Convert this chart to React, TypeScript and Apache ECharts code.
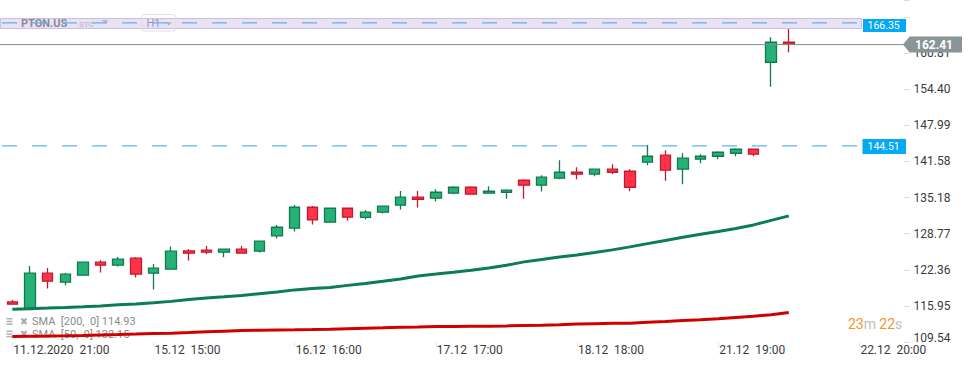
import React, { useEffect, useRef } from "react";
import * as echarts from "echarts";

// ---- categories (hourly US session bars) ----
const firstBar = "11.12.2020  21:00";
const sessionDays = ["14.12", "15.12", "16.12", "17.12", "18.12", "21.12", "22.12", "23.12"];
const sessionHours = ["15:00", "16:00", "17:00", "18:00", "19:00", "20:00", "21:00"];
const SLOT_COUNT = 51;

// ---- y axis tick labels ----
const yTickLabels = ["109.54", "115.95", "122.36", "128.77", "135.18", "141.58", "147.99", "154.40", "160.81"];
const Y_MIN = 109.54;
const Y_STEP = 6.4075;
const Y_MAX = 170.24;

// ---- OHLC ----
const opens = [116.66, 115.54, 121.75, 120.16, 121.4, 123.7, 123.17, 124.41, 121.75, 122.46, 125.71, 125.83, 125.48, 126.01, 125.66, 128.37, 129.74, 133.46, 130.8, 133.28, 131.65, 132.58, 133.82, 135.24, 135.06, 135.95, 137.01, 135.95, 136.12, 138.25, 137.37, 138.61, 139.67, 139.32, 140.21, 139.85, 141.45, 142.69, 140.21, 141.98, 142.51, 143.04, 143.75, 159.19, 162.74];
const closes = [116.25, 121.75, 120.33, 121.57, 123.7, 123.17, 124.24, 121.57, 122.64, 125.66, 125.3, 125.48, 126.01, 125.3, 127.43, 129.91, 133.46, 131.21, 133.28, 131.69, 132.58, 133.64, 135.24, 134.88, 136.12, 137.01, 135.77, 136.3, 136.48, 137.37, 138.79, 139.67, 139.32, 140.21, 139.67, 137.01, 142.51, 140.03, 142.16, 142.51, 143.22, 143.75, 142.87, 162.74, 162.41];
const lows = [116.22, 115.4, 119.02, 119.55, 121.36, 121.86, 122.92, 120.97, 118.84, 122.43, 123.99, 125.12, 124.59, 125.26, 125.41, 127.89, 129.13, 130.38, 130.77, 131.08, 131.3, 132.33, 133.04, 133.39, 134.46, 135.77, 135.73, 135.91, 134.97, 134.97, 136.23, 138.43, 138.43, 138.96, 139.32, 136.3, 140.91, 138.18, 137.54, 141.27, 141.98, 142.51, 142.51, 154.86, 160.96];
const highs = [117.01, 123.05, 122.69, 121.81, 123.76, 124.06, 124.64, 124.64, 123.4, 126.47, 126.06, 126.6, 126.06, 126.6, 127.48, 130.32, 133.87, 133.69, 133.34, 133.34, 132.95, 133.69, 136.35, 136.35, 136.66, 137.19, 137.19, 137.19, 136.66, 138.43, 139.14, 141.8, 140.56, 140.26, 141.09, 140.21, 144.51, 143.58, 143.04, 142.87, 143.4, 143.93, 143.81, 163.63, 165.1];

// ---- moving averages ----
const sma50 = [115.37, 115.45, 115.56, 115.68, 115.81, 115.95, 116.13, 116.3, 116.52, 116.75, 117.1, 117.33, 117.55, 117.78, 118.11, 118.43, 118.79, 119.05, 119.23, 119.59, 119.94, 120.33, 120.74, 121.27, 121.59, 121.93, 122.28, 122.66, 123.17, 123.76, 124.2, 124.64, 125.0, 125.44, 125.89, 126.42, 127.0, 127.57, 128.14, 128.67, 129.17, 129.7, 130.32, 131.12, 131.92];
const sma200 = [110.5, 110.56, 110.59, 110.63, 110.7, 110.8, 110.87, 110.95, 111.05, 111.11, 111.21, 111.34, 111.46, 111.57, 111.62, 111.67, 111.71, 111.76, 111.82, 111.9, 111.98, 112.05, 112.17, 112.22, 112.28, 112.31, 112.33, 112.35, 112.4, 112.47, 112.53, 112.62, 112.72, 112.79, 112.85, 112.88, 113.03, 113.18, 113.36, 113.5, 113.68, 113.89, 114.09, 114.39, 114.76];

// ---- price levels ----
const ALERT_LEVEL = 166.35;
const SUPPORT_LEVEL = 144.51;
const LAST_PRICE = 162.41;
const legendTexts = ["SMA  [200,  0] 114.93", "SMA  [50,  0] 132.15"];
const countdown = { min: "23", sec: "22" };

const categories: string[] = [firstBar];
sessionDays.forEach((d) => sessionHours.forEach((h) => categories.push(`${d}  ${h}`)));
categories.length = SLOT_COUNT;

export default function App() {
  const ref = useRef<HTMLDivElement>(null);
  useEffect(() => {
    const el = ref.current!;
    const chart = echarts.init(el, undefined, { renderer: "svg" });
    const candleData = opens.map((o, i) => [o, closes[i], lows[i], highs[i]]);
    chart.setOption({
      animation: false,
      textStyle: { fontFamily: "Roboto" },
      grid: { left: 3.5, right: 70.5, top: 0, bottom: 26 },
      xAxis: {
        type: "category",
        data: categories,
        boundaryGap: true,
        axisLine: { show: false },
        axisTick: { show: true, alignWithLabel: true, interval: 7, length: 5, lineStyle: { color: "#e2e2e2" } },
        axisLabel: { interval: 7, align: "left", color: "#3a3a3a", fontSize: 12, margin: 2, padding: [0, 0, 0, 1] },
        splitLine: { show: false },
      },
      yAxis: [
        { type: "value", min: Y_MIN, max: Y_MAX, show: false, position: "right", splitLine: { show: false } },
        {
          type: "value",
          min: 0,
          max: (Y_MAX - Y_MIN) / Y_STEP,
          interval: 1,
          position: "right",
          axisLine: { show: false },
          axisTick: { show: true, length: 6, lineStyle: { color: "#dddddd" } },
          splitLine: { show: false },
          axisLabel: {
            margin: 10,
            color: "#3a3a3a",
            fontSize: 12,
            formatter: (v: number) => {
              const i = Math.round(v);
              if (Math.abs(v - i) > 1e-6 || !yTickLabels[i]) return "";
              return i === 0 ? `{b|${yTickLabels[i]}}` : yTickLabels[i];
            },
            rich: { b: { color: "#3a3a3a", fontSize: 12, padding: [0, 0, 9, 0] } },
          },
        },
      ],
      series: [
        {
          type: "candlestick",
          data: candleData,
          yAxisIndex: 0,
          barWidth: 11,
          itemStyle: {
            color: "#26b276",
            color0: "#ff3347",
            borderColor: "#117a4f",
            borderColor0: "#c41a2f",
            borderWidth: 1.3,
          },
        },
        {
          type: "line",
          data: sma50,
          yAxisIndex: 0,
          symbol: "none",
          z: 3,
          lineStyle: { color: "#0c7c52", width: 3 },
        },
        {
          type: "line",
          data: sma200,
          yAxisIndex: 0,
          symbol: "none",
          z: 3,
          lineStyle: { color: "#d10000", width: 3 },
        },
      ],
    });

    const yp = (v: number) => chart.convertToPixel({ yAxisIndex: 0 }, v) as number;
    const xp = (i: number) => chart.convertToPixel({ xAxisIndex: 0 }, i) as number;
    const yA = yp(ALERT_LEVEL);
    const yS = yp(SUPPORT_LEVEL);
    const yL = yp(LAST_PRICE);
    const xEnd = xp(48);
    const plotRight = chart.getWidth() - 69;

    const txt = (text: string, x: number, y: number, font: string, fill: string, z = 11) => ({
      type: "text",
      x,
      y,
      z,
      style: { text, font, fill, align: "left", textAlign: "left", verticalAlign: "middle", textVerticalAlign: "middle" },
    });
    const ln = (x1: number, y1: number, x2: number, y2: number, stroke: string, lineWidth: number, z = 11) => ({
      type: "line",
      z,
      shape: { x1, y1, x2, y2 },
      style: { stroke, lineWidth },
    });

    chart.setOption({
      graphic: [
        // toolbar band
        { type: "rect", z: 10, shape: { x: 0.5, y: 18.5, width: 861, height: 10 }, style: { fill: "#e8e2f3", stroke: "#cbbde3", lineWidth: 1 } },
        txt("PTON.US", 21, 23.5, "bold 11px Roboto", "#8d899e"),
        txt("STC", 79, 24, "8px Roboto", "#b7b3c7"),
        { type: "polygon", z: 11, shape: { points: [[101.5, 20], [108.5, 20], [105, 23.5]] }, style: { fill: "#bcb8cc" } },
        { type: "rect", z: 11, shape: { x: 141.5, y: 14.5, width: 34, height: 16.5, r: 3 }, style: { fill: "rgba(0,0,0,0)", stroke: "#e0dde6", lineWidth: 1 } },
        txt("H1", 146.5, 23.5, "11px Roboto", "#9c98ab"),
        { type: "polygon", z: 11, shape: { points: [[165.5, 22.3], [171.8, 22.3], [168.6, 25.5]] }, style: { fill: "#b0acc0" } },
        // alert line
        { type: "line", z: 12, shape: { x1: 2, y1: yA + 1, x2: xEnd, y2: yA + 1 }, style: { stroke: "#5fb3ec", lineWidth: 1.3, lineDash: [15, 15] } },
        { type: "rect", z: 13, shape: { x: 863, y: yA - 3, width: 43, height: 13 }, style: { fill: "#03a9f4" } },
        txt(ALERT_LEVEL.toFixed(2), 867.5, yA + 3.5, "10.5px Roboto", "#ffffff", 14),
        // support level line
        { type: "line", z: 12, shape: { x1: 2, y1: yS + 1, x2: xEnd - 1, y2: yS + 1 }, style: { stroke: "#5ab6f0", lineWidth: 1.3, lineDash: [15, 15] } },
        { type: "rect", z: 13, shape: { x: 862.5, y: yS - 6, width: 43.5, height: 15 }, style: { fill: "#03a9f4" } },
        txt(SUPPORT_LEVEL.toFixed(2), 867.5, yS + 1.5, "10.5px Roboto", "#ffffff", 14),
        // last price
        ln(0, yL + 0.5, plotRight, yL + 0.5, "#7f8d8e", 1, 9),
        { type: "polygon", z: 13, shape: { points: [[903, yL + 0.5], [909.5, yL - 7.5], [962, yL - 7.5], [962, yL + 8.5], [909.5, yL + 8.5]] }, style: { fill: "#8a9598" } },
        txt(LAST_PRICE.toFixed(2), 915, yL + 1, "bold 12px Roboto", "#ffffff", 14),
        // indicator legend
        ...[321.5, 334].flatMap((y, i) => [
          { type: "rect", z: 1, shape: { x: 6.5, y: y - 3.5, width: 6, height: 1.5 }, style: { fill: "#b0b0b0" } },
          { type: "rect", z: 1, shape: { x: 6.5, y: y - 0.8, width: 6, height: 1.5 }, style: { fill: "#b0b0b0" } },
          { type: "rect", z: 1, shape: { x: 6.5, y: y + 1.9, width: 6, height: 1.5 }, style: { fill: "#b0b0b0" } },
          ln(21.5, y - 3, 26.5, y + 2.5, "#a8a8a8", 2, 1),
          ln(26.5, y - 3, 21.5, y + 2.5, "#a8a8a8", 2, 1),
          txt(legendTexts[i], 32, y, "11px Roboto", "#8a8a8a", 1),
        ]),
        // countdown
        {
          type: "text",
          x: 848,
          y: 323.5,
          z: 11,
          style: {
            text: `{a|${countdown.min}}{b|m} {a|${countdown.sec}}{b|s}`,
            align: "left",
            textAlign: "left",
            verticalAlign: "middle",
            textVerticalAlign: "middle",
            rich: {
              a: { fill: "#f7931e", fontSize: 14, fontFamily: "Roboto" },
              b: { fill: "#bdbdbd", fontSize: 14, fontFamily: "Roboto" },
            },
          },
        },
      ],
    });

    return () => chart.dispose();
  }, []);
  return <div ref={ref} style={{ position: "absolute", left: 0, top: 0, width: 974, height: 368 }} />;
}
